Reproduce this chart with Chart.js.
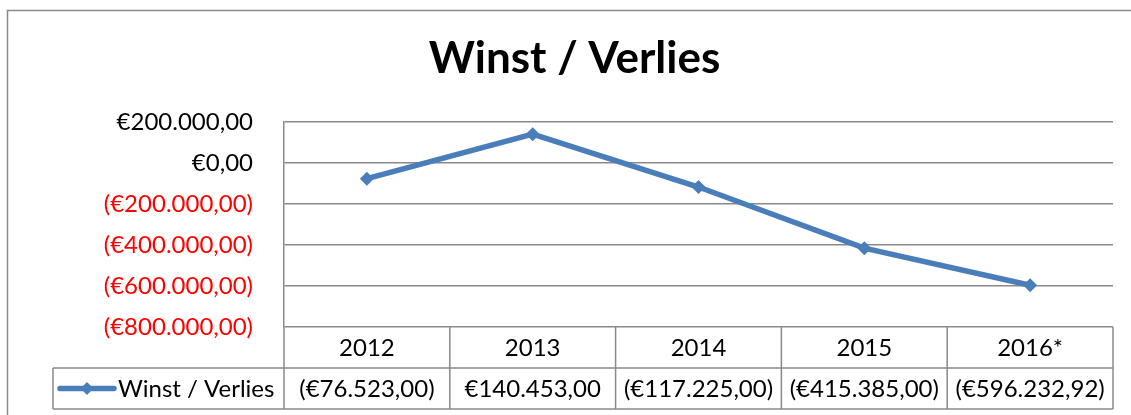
<!DOCTYPE html>
<html>
<head>
<meta charset="utf-8">
<script src="https://cdn.jsdelivr.net/npm/chart.js@4.4.1/dist/chart.umd.min.js"></script>
<style>
  html, body { margin: 0; padding: 0; background: #fff; }
  #c { display: block; }
</style>
</head>
<body>
<canvas id="c" width="1131" height="415"></canvas>
<script>
const categories = ['2012', '2013', '2014', '2015', '2016*'];
const seriesName = 'Winst / Verlies';
const values = [-76523.00, 140453.00, -117225.00, -415385.00, -596232.92];
const yTicks = [200000, 0, -200000, -400000, -600000, -800000];
const chartTitle = 'Winst / Verlies';

const FONT = 'Lato, "Open Sans", sans-serif';
const GRID = '#8a8a8a';
const LINE = '#4A7EBB';
const TXT = 24;

function euro(v) {
  const abs = Math.abs(v);
  const parts = abs.toFixed(2).split('.');
  const intPart = parts[0].replace(/\B(?=(\d{3})+(?!\d))/g, '.');
  const s = '€' + intPart + ',' + parts[1];
  return v < 0 ? '(' + s + ')' : s;
}

const framePlugin = {
  id: 'frame',
  beforeDraw(chart) {
    const ctx = chart.ctx;
    ctx.save();
    ctx.fillStyle = '#fff';
    ctx.fillRect(0, 0, chart.width, chart.height);
    ctx.strokeStyle = GRID;
    ctx.lineWidth = 1.5;
    ctx.beginPath();
    ctx.moveTo(7.5, chart.height);
    ctx.lineTo(7.5, 10.5);
    ctx.lineTo(chart.width, 10.5);
    ctx.stroke();
    ctx.restore();
  }
};

const tablePlugin = {
  id: 'dataTable',
  afterDraw(chart) {
    const ctx = chart.ctx;
    const area = chart.chartArea;
    const xs = chart.scales.x;
    const n = categories.length;
    const colW = (area.right - area.left) / n;
    const rowH = 41;
    const top = area.bottom;
    const mid = top + rowH;
    const bot = mid + rowH;
    const legLeft = 53;
    ctx.save();
    ctx.strokeStyle = GRID;
    ctx.lineWidth = 1.5;
    ctx.beginPath();
    for (let i = 0; i <= n; i++) {
      const x = area.left + i * colW;
      ctx.moveTo(x, top);
      ctx.lineTo(x, bot);
    }
    ctx.moveTo(legLeft, mid); ctx.lineTo(area.right, mid);
    ctx.moveTo(legLeft, bot); ctx.lineTo(area.right, bot);
    ctx.moveTo(legLeft, mid); ctx.lineTo(legLeft, bot);
    ctx.stroke();

    ctx.fillStyle = '#000';
    ctx.font = TXT + 'px ' + FONT;
    ctx.textAlign = 'center';
    ctx.textBaseline = 'middle';
    categories.forEach((c, i) => {
      const cx = xs.getPixelForValue(i);
      ctx.fillText(c, cx, top + rowH / 2 + 1);
      ctx.fillText(euro(values[i]), cx, mid + rowH / 2 + 1);
    });

    // legend key
    const ly = mid + rowH / 2;
    ctx.strokeStyle = LINE;
    ctx.lineWidth = 5.5;
    ctx.lineCap = 'round';
    ctx.beginPath();
    ctx.moveTo(60, ly); ctx.lineTo(114, ly);
    ctx.stroke();
    ctx.fillStyle = LINE;
    ctx.beginPath();
    ctx.moveTo(87, ly - 6.5); ctx.lineTo(93.5, ly); ctx.lineTo(87, ly + 6.5); ctx.lineTo(80.5, ly);
    ctx.closePath();
    ctx.fill();
    ctx.fillStyle = '#000';
    ctx.textAlign = 'left';
    ctx.fillText(seriesName, 118, ly + 1);
    ctx.restore();
  }
};

new Chart(document.getElementById('c'), {
  type: 'line',
  data: {
    labels: categories,
    datasets: [{
      label: seriesName,
      data: values,
      borderColor: LINE,
      backgroundColor: LINE,
      borderWidth: 5.5,
      pointStyle: 'rectRot',
      pointRadius: 7,
      pointHoverRadius: 7,
      pointBackgroundColor: LINE,
      pointBorderColor: LINE,
      pointBorderWidth: 0,
      tension: 0,
      fill: false
    }]
  },
  options: {
    responsive: false,
    animation: false,
    layout: { padding: { left: 36, right: 18, top: 0, bottom: 88 } },
    plugins: {
      legend: { display: false },
      tooltip: { enabled: false },
      title: {
        display: true,
        text: chartTitle,
        color: '#000',
        font: { family: FONT, size: 44, weight: 'bold', lineHeight: 1.2 },
        padding: { top: 32, bottom: 37.2 }
      }
    },
    scales: {
      x: {
        type: 'category',
        offset: true,
        display: false
      },
      y: {
        min: -800000,
        max: 200000,
        afterBuildTicks(scale) {
          scale.ticks = yTicks.map(v => ({ value: v }));
        },
        afterFit(scale) { scale.width = 248; },
        border: { display: true, color: GRID, width: 1.5 },
        grid: { color: GRID, lineWidth: 1.5, drawTicks: false },
        ticks: {
          padding: 31,
          font: { family: FONT, size: TXT },
          color: (ctx) => (ctx.tick && ctx.tick.value < 0) ? '#FF0000' : '#000',
          callback: (v) => euro(v)
        }
      }
    }
  },
  plugins: [framePlugin, tablePlugin]
});
</script>
</body>
</html>
